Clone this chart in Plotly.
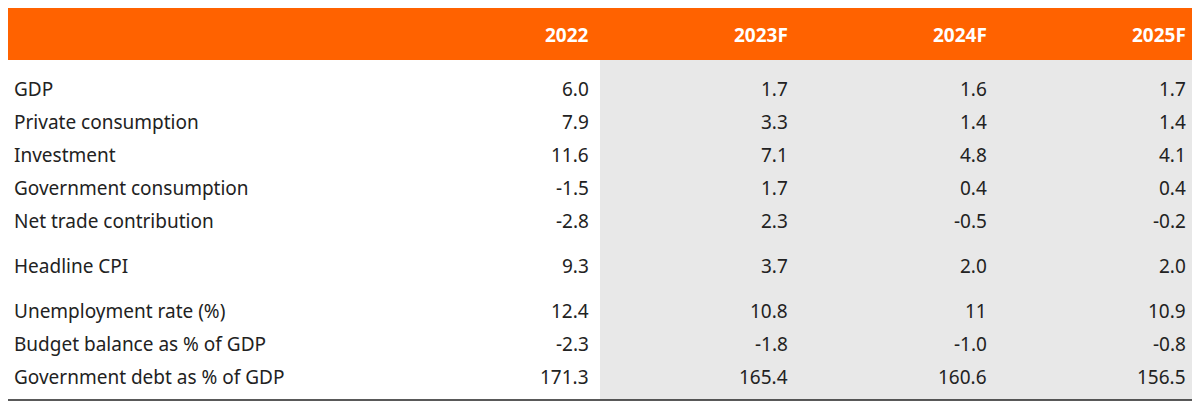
import plotly.graph_objects as go

columns = ["2022", "2023F", "2024F", "2025F"]
rows = ["GDP", "Private consumption", "Investment", "Government consumption",
        "Net trade contribution", "Headline CPI", "Unemployment rate (%)",
        "Budget balance as % of GDP", "Government debt as % of GDP"]
values = [
    ["6.0", "1.7", "1.6", "1.7"],
    ["7.9", "3.3", "1.4", "1.4"],
    ["11.6", "7.1", "4.8", "4.1"],
    ["-1.5", "1.7", "0.4", "0.4"],
    ["-2.8", "2.3", "-0.5", "-0.2"],
    ["9.3", "3.7", "2.0", "2.0"],
    ["12.4", "10.8", "11", "10.9"],
    ["-2.3", "-1.8", "-1.0", "-0.8"],
    ["171.3", "165.4", "160.6", "156.5"],
]
group = [0, 0, 0, 0, 0, 1, 2, 2, 2]

ORANGE = "#FF6200"
FONT = "Noto Sans"
col_x = [591, 790, 989, 1188]
row_h = 33
first_y = 89
group_gap = 12
# page body has an 8px margin, so shift the axis window to compensate
OFF = 8

fig = go.Figure()
shapes = [
    dict(type="rect", x0=6, x1=1196, y0=8, y1=60, fillcolor=ORANGE, line_width=0, layer="below"),
    dict(type="rect", x0=600, x1=1196, y0=60, y1=400, fillcolor="#E8E8E8", line_width=0, layer="below"),
    dict(type="line", x0=6, x1=1196, y0=400, y1=400, line=dict(color="#222", width=1.5)),
]
ann = []
for c, x in zip(columns, col_x):
    ann.append(dict(x=x, y=35, text="<b>%s</b>" % c, xanchor="right", showarrow=False,
                    font=dict(family=FONT, size=19, color="white")))
for i, (r, vals) in enumerate(zip(rows, values)):
    y = first_y + i * row_h + group[i] * group_gap
    ann.append(dict(x=12, y=y, text=r, xanchor="left", showarrow=False,
                    font=dict(family=FONT, size=19, color="#222")))
    for v, x in zip(vals, col_x):
        ann.append(dict(x=x, y=y, text=v, xanchor="right", showarrow=False,
                        font=dict(family=FONT, size=19, color="#222")))

fig.update_layout(width=1200, height=407, margin=dict(l=0, r=0, t=0, b=0),
                  paper_bgcolor="white", plot_bgcolor="white",
                  shapes=shapes, annotations=ann, showlegend=False,
                  xaxis=dict(range=[OFF, 1200 + OFF], visible=False, fixedrange=True),
                  yaxis=dict(range=[407 + OFF, OFF], visible=False, fixedrange=True))
fig.write_html("out.html", config=dict(displayModeBar=False))
